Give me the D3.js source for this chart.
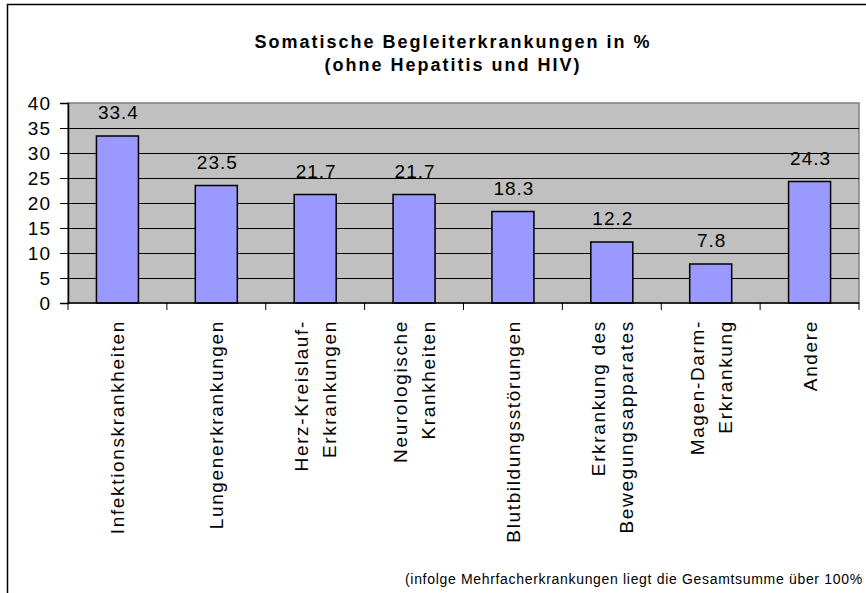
<!DOCTYPE html>
<html>
<head>
<meta charset="utf-8">
<script src="https://cdn.jsdelivr.net/npm/d3@7"></script>
<style>
  body { margin: 0; background: #fff; }
  svg { display: block; font-family: "Liberation Sans", Arial, sans-serif; }
</style>
</head>
<body>
<div id="chart"></div>
<script>
var width = 866;
var height = 593;

var categories = [
  ["Infektionskrankheiten"],
  ["Lungenerkrankungen"],
  ["Herz-Kreislauf-", "Erkrankungen"],
  ["Neurologische", "Krankheiten"],
  ["Blutbildungsstörungen"],
  ["Erkrankung des", "Bewegungsapparates"],
  ["Magen-Darm-", "Erkrankung"],
  ["Andere"]
];
var values = [33.4, 23.5, 21.7, 21.7, 18.3, 12.2, 7.8, 24.3];
var yTicks = [0, 5, 10, 15, 20, 25, 30, 35, 40];
var titleLines = ["Somatische Begleiterkrankungen in %", "(ohne Hepatitis und HIV)"];
var footnote = "(infolge Mehrfacherkrankungen liegt die Gesamtsumme über 100%";

var plot = { left: 68, right: 859, top: 103, bottom: 303 };

var svg = d3.select("#chart").append("svg")
  .attr("width", width)
  .attr("height", height);

// outer chart frame (right and bottom run off the picture)
svg.append("rect")
  .attr("x", 7.5).attr("y", 4.5)
  .attr("width", 880).attr("height", 620)
  .attr("fill", "#fff")
  .attr("stroke", "#000")
  .attr("stroke-width", 1.5);

var x = d3.scaleBand()
  .domain(d3.range(categories.length))
  .range([plot.left, plot.right]);

var y = d3.scaleLinear()
  .domain([0, 40])
  .range([plot.bottom, plot.top]);

// plot area
svg.append("rect")
  .attr("x", plot.left).attr("y", plot.top)
  .attr("width", plot.right - plot.left)
  .attr("height", plot.bottom - plot.top)
  .attr("fill", "#c0c0c0")
  .attr("stroke", "#808080")
  .attr("stroke-width", 1.5);

// gridlines
svg.append("g")
  .selectAll("line")
  .data(yTicks.filter(function(d) { return d > 0 && d < 40; }))
  .join("line")
  .attr("x1", plot.left).attr("x2", plot.right)
  .attr("y1", function(d) { return Math.round(y(d)) + 0.5; })
  .attr("y2", function(d) { return Math.round(y(d)) + 0.5; })
  .attr("stroke", "#000")
  .attr("stroke-width", 1);

// bars
svg.append("g")
  .selectAll("rect")
  .data(values)
  .join("rect")
  .attr("x", function(d, i) { return x(i) + x.bandwidth() / 2 - 21; })
  .attr("width", 42)
  .attr("y", function(d) { return y(d); })
  .attr("height", function(d) { return y(0) - y(d); })
  .attr("fill", "#9999ff")
  .attr("stroke", "#000")
  .attr("stroke-width", 1.5);

// value labels
svg.append("g")
  .selectAll("text")
  .data(values)
  .join("text")
  .attr("x", function(d, i) { return x(i) + x.bandwidth() / 2 + 1; })
  .attr("y", function(d) { return y(d) - 17; })
  .attr("text-anchor", "middle")
  .attr("font-size", 19)
  .attr("letter-spacing", 1)
  .text(function(d) { return d.toFixed(1); });

// y axis
var yAxis = svg.append("g")
  .attr("transform", "translate(" + plot.left + ",0)")
  .call(d3.axisLeft(y).tickValues(yTicks).tickSize(8).tickPadding(9));
yAxis.select(".domain").attr("stroke", "#000").attr("stroke-width", 1.5);
yAxis.selectAll(".tick line").attr("stroke", "#000");
yAxis.selectAll(".tick text")
  .attr("font-size", 19)
  .attr("letter-spacing", 1)
  .attr("fill", "#000")
  .attr("font-family", "Liberation Sans, Arial, sans-serif");

// x axis
var xAxis = svg.append("g")
  .attr("transform", "translate(0," + plot.bottom + ")");
xAxis.append("line")
  .attr("x1", plot.left).attr("x2", plot.right)
  .attr("stroke", "#000").attr("stroke-width", 1.5);
xAxis.selectAll(".xtick")
  .data(d3.range(categories.length + 1))
  .join("line")
  .attr("class", "xtick")
  .attr("x1", function(i) { return i < categories.length ? x(i) : plot.right; })
  .attr("x2", function(i) { return i < categories.length ? x(i) : plot.right; })
  .attr("y1", 0).attr("y2", 7)
  .attr("stroke", "#000");

// rotated category labels
var lineH = 28;
xAxis.selectAll(".xlabel")
  .data(categories)
  .join("text")
  .attr("class", "xlabel")
  .attr("text-anchor", "end")
  .attr("font-size", 19)
  .attr("letter-spacing", 1.65)
  .attr("transform", function(d, i) {
    var cx = x(i) + x.bandwidth() / 2;
    return "translate(" + cx + ",17) rotate(-90)";
  })
  .each(function(d) {
    var t = d3.select(this);
    var off = -(d.length - 1) * lineH / 2;
    d.forEach(function(s, k) {
      t.append("tspan")
        .attr("x", 0)
        .attr("y", off + k * lineH + 7)
        .text(s);
    });
  });

// title
svg.append("g")
  .selectAll("text")
  .data(titleLines)
  .join("text")
  .attr("x", 453)
  .attr("y", function(d, i) { return 48 + i * 23; })
  .attr("text-anchor", "middle")
  .attr("font-size", 18)
  .attr("font-weight", "bold")
  .attr("letter-spacing", 2)
  .text(function(d) { return d; });

// footnote
svg.append("text")
  .attr("x", 405)
  .attr("y", 584)
  .attr("font-size", 14)
  .attr("letter-spacing", 0.68)
  .text(footnote);
</script>
</body>
</html>
